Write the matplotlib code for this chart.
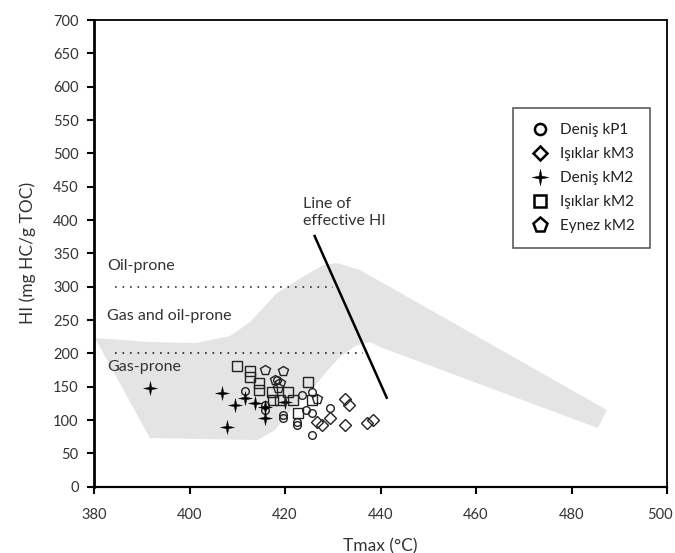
import matplotlib
matplotlib.use("Agg")
import matplotlib.pyplot as plt
from matplotlib.path import Path
from matplotlib.lines import Line2D
import matplotlib.transforms as mtransforms

plt.rcParams['font.family'] = ['Lato', 'DejaVu Sans']

# ---- data ----
denis_kp1_t = [411.6, 415.8, 415.8, 419.6, 419.6, 422.5, 422.5, 423.5, 425.6, 424.5, 425.6, 425.7, 429.4, 418.3]
denis_kp1_hi = [143.5, 122.5, 115, 107.5, 102.6, 97.5, 92.5, 137.5, 142.5, 115, 110, 77.5, 117.6, 160]

isiklar_km3_t = [432.6, 433.5, 429.4, 427.7, 426.6, 432.6, 437.2, 438.5]
isiklar_km3_hi = [131.1, 122.6, 102.6, 92.5, 97.5, 92.5, 95.1, 100]

denis_km2_t = [391.7, 406.8, 407.8, 409.5, 411.6, 413.7, 415.8, 415.8, 420.0]
denis_km2_hi = [148.0, 140.6, 90.0, 122.6, 132.6, 125.1, 120.0, 102.6, 127.5]

isiklar_km2_t = [409.9, 412.7, 412.7, 414.6, 414.6, 417.2, 417.5, 420.7, 421.7, 422.7, 424.8, 425.7, 419.0]
isiklar_km2_hi = [181, 173.5, 165, 155.1, 145, 142.5, 130, 142.5, 130, 110, 156.3, 130, 130]

eynez_km2_t = [415.8, 419.6, 417.9, 419.0, 418.5, 426.6]
eynez_km2_hi = [175, 173.5, 160, 155, 148, 131.5]

# grey envelope (Tmax, HI) outline
band_t = [380.2, 391.7, 401.2, 408.5, 412.7, 418.3, 423.8, 428.0, 430.9, 435.7, 442.0, 487.4,
          485.5, 439.9, 437.8, 434.7, 431.5, 428.8, 425.9, 422.1, 417.9, 414.3, 391.7]
band_hi = [223, 217, 215.5, 226, 247, 290.5, 315, 332.5, 335.5, 325, 299.5, 115,
           88, 209.5, 217, 211, 194.5, 173.5, 148, 122.6, 85, 70, 73]

# line of effective HI
eff_t = [426.2, 441.3]
eff_hi = [376, 133.5]

# boundary lines
oil_line_t = [384.4, 430.1]
oil_line_hi = [300, 300]
gas_line_t = [384.4, 436.3]
gas_line_hi = [200, 200]

x_ticks = [380, 400, 420, 440, 460, 480, 500]
x_ticklabels = ['380', '400', '420', '440', '460', '480', '500']
y_ticks = list(range(0, 701, 50))

# ---- figure ----
fig = plt.figure(figsize=(6.75, 5.53), dpi=100)
ax = fig.add_axes([94/675, 1-486.7/553, 573/675, 466.7/553])

ax.fill(band_t, band_hi, color='#e4e4e4', lw=0, zorder=1)
ax.plot(oil_line_t, oil_line_hi, ls=(0, (1, 3.5)), color='#333333', lw=1.2, zorder=2)
ax.plot(gas_line_t, gas_line_hi, ls=(0, (1, 3.5)), color='#222222', lw=1.2, zorder=2)
ax.plot(eff_t, eff_hi, color='black', lw=1.8, zorder=5)

star_verts = [(0, 1), (0.17, 0.17), (1, 0), (0.17, -0.17), (0, -1), (-0.17, -0.17), (-1, 0), (-0.17, 0.17), (0, 1)]
star = Path(star_verts, [Path.MOVETO] + [Path.LINETO] * 7 + [Path.CLOSEPOLY])

ec = '#222222'
ax.plot(denis_kp1_t, denis_kp1_hi, ls='none', marker='o', ms=5.5, mfc='none', mec=ec, mew=1.0, zorder=4)
ax.plot(isiklar_km3_t, isiklar_km3_hi, ls='none', marker='D', ms=6.5, mfc='none', mec=ec, mew=1.0, zorder=4)
ax.plot(denis_km2_t, denis_km2_hi, ls='none', marker=star, ms=10, mfc='black', mec='black', mew=0.3, zorder=4)
ax.plot(isiklar_km2_t, isiklar_km2_hi, ls='none', marker='s', ms=6.8, mfc='none', mec=ec, mew=1.0, zorder=4)
ax.plot(eynez_km2_t, eynez_km2_hi, ls='none', marker='p', ms=7, mfc='none', mec=ec, mew=1.0, zorder=4)

txtc = '#333333'
ax.text(382.7, 331, 'Oil-prone', fontsize=11.5, color=txtc, va='center', ha='left')
ax.text(382.7, 256, 'Gas and oil-prone', fontsize=11.5, color=txtc, va='center', ha='left')
ax.text(382.7, 180, 'Gas-prone', fontsize=11.5, color=txtc, va='center', ha='left')
ax.text(423.8, 411, 'Line of\neffective HI', fontsize=11.5, color=txtc, va='center', ha='left', linespacing=1.25)

ax.set_xlim(380, 500)
ax.set_ylim(0, 700)
ax.set_xticks(x_ticks)
ax.set_xticklabels(x_ticklabels[:-1] + [''])
ax.set_yticks(y_ticks)
ax.tick_params(axis='both', direction='out', length=5, width=1.5, colors='black', labelcolor='#333333', labelsize=10.5, pad=6)
ax.tick_params(axis='x', pad=10)
# last tick label kept inside the picture edge
ax.text(1.0, 0, x_ticklabels[-1], transform=ax.transAxes + mtransforms.ScaledTranslation(4/72, -15.5/72, fig.dpi_scale_trans),
        ha='right', va='top', fontsize=10.5, color='#333333')
ax.spines['left'].set_linewidth(2.0)
ax.spines['bottom'].set_linewidth(1.6)
for s in ['top', 'right']:
    ax.spines[s].set_linewidth(1.3)
ax.set_xlabel('Tmax (°C)', fontsize=12.5, color=txtc, labelpad=12)
ax.set_ylabel('HI (mg HC/g TOC)', fontsize=12.5, color=txtc, labelpad=12)

handles = [
    Line2D([], [], ls='none', marker='o', ms=8, mfc='none', mec='black', mew=1.8),
    Line2D([], [], ls='none', marker='D', ms=7.5, mfc='none', mec='black', mew=1.8),
    Line2D([], [], ls='none', marker=star, ms=12, mfc='black', mec='black', mew=0.3),
    Line2D([], [], ls='none', marker='s', ms=9, mfc='none', mec='black', mew=1.8),
    Line2D([], [], ls='none', marker='p', ms=11, mfc='none', mec='black', mew=1.8),
]
labels = ['Deniş kP1', 'Işıklar kM3', 'Deniş kM2', 'Işıklar kM2', 'Eynez kM2']
leg = ax.legend(handles, labels, loc='upper left', bbox_to_anchor=(0.731, 0.811), fontsize=11,
                frameon=True, fancybox=False, edgecolor='#333333', borderpad=1.0,
                labelspacing=0.65, handletextpad=0.6, handlelength=1.5, borderaxespad=0)
leg.get_frame().set_linewidth(1.2)
for t in leg.get_texts():
    t.set_color('#222222')

fig.savefig('out.png', dpi=100)
